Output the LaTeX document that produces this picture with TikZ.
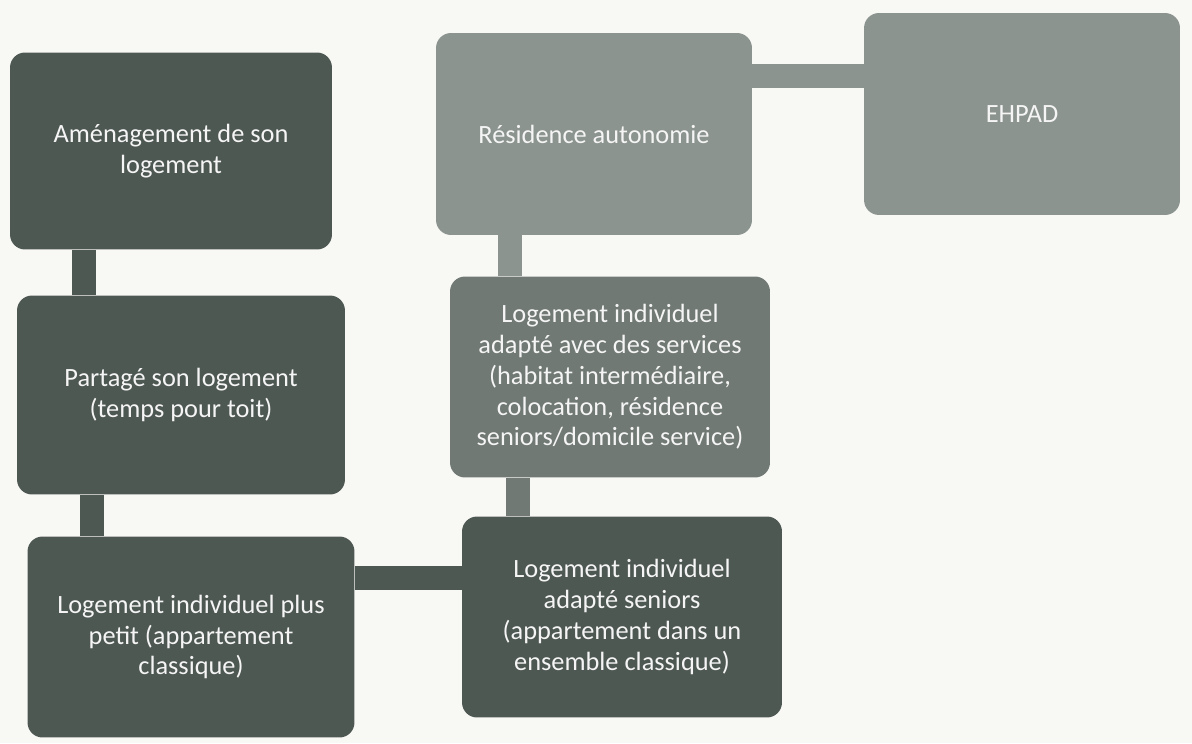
\documentclass[tikz,border=0pt]{standalone}
\usepackage{fontspec}
\setmainfont{Carlito}
\begin{document}
\begin{tikzpicture}[x=0.02cm,y=-0.02cm,
  box/.style={rounded corners=0.3cm, align=center, text=white!92!gray,
    font=\fontsize{15}{17.5}\selectfont, inner sep=0pt},
  bar/.style={line width=14pt},
]
\definecolor{cdark}{RGB}{78,88,83}
\definecolor{cmid}{RGB}{112,121,116}
\definecolor{clight}{RGB}{140,148,143}
\definecolor{bg}{RGB}{248,248,245}
\fill[bg] (0,0) rectangle (1192,743);
\useasboundingbox (0,0) rectangle (1192,743);

\node[box, fill=cdark, minimum width=6.44cm, minimum height=3.94cm] (n1) at (171,151) {Aménagement de son\\logement};
\node[box, fill=cdark, minimum width=6.56cm, minimum height=3.98cm] (n2) at (181,395) {Partagé son logement\\(temps pour toit)};
\node[box, fill=cdark, minimum width=6.54cm, minimum height=4.02cm] (n3) at (191,637) {Logement individuel plus\\petit (appartement\\classique)};
\node[box, fill=cdark, minimum width=6.40cm, minimum height=4.02cm] (n4) at (622,617) {Logement individuel\\adapté seniors\\(appartement dans un\\ensemble classique)};
\node[box, fill=cmid, minimum width=6.40cm, minimum height=4.02cm] (n5) at (610,377) {Logement individuel\\adapté avec des services\\(habitat intermédiaire,\\colocation, résidence\\seniors/domicile service)};
\node[box, fill=clight, minimum width=6.32cm, minimum height=4.04cm] (n6) at (594,134) {Résidence autonomie};
\node[box, fill=clight, minimum width=6.32cm, minimum height=4.04cm] (n7) at (1022,114) {EHPAD};

\coordinate (c12) at (84,0);
\coordinate (c23) at (92,0);
\coordinate (c34) at (0,578);
\coordinate (c45) at (518,0);
\coordinate (c56) at (510,0);
\coordinate (c67) at (0,76);

\draw[bar, cdark] (n1.south -| c12) -- (n2.north -| c12);
\draw[bar, cdark] (n2.south -| c23) -- (n3.north -| c23);
\draw[bar, cdark] (n3.east |- c34) -- (n4.west |- c34);
\draw[bar, cmid] (n5.south -| c45) -- (n4.north -| c45);
\draw[bar, clight] (n6.south -| c56) -- (n5.north -| c56);
\draw[bar, clight] (n6.east |- c67) -- (n7.west |- c67);
\end{tikzpicture}
\end{document}
